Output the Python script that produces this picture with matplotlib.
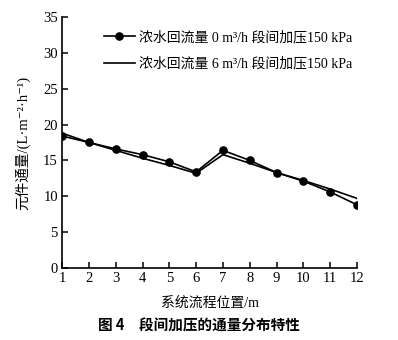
import matplotlib
matplotlib.use("Agg")
import matplotlib.pyplot as plt

plt.rcParams['font.family'] = ['Liberation Serif', 'Noto Sans CJK SC', 'DejaVu Sans']

positions = [1, 2, 3, 4, 5, 6, 7, 8, 9, 10, 11, 12]
flux_0 = [18.4, 17.5, 16.6, 15.8, 14.8, 13.4, 16.4, 15.0, 13.3, 12.1, 10.6, 8.8]
flux_6 = [18.8, 17.5, 16.4, 15.3, 14.3, 13.2, 15.8, 14.6, 13.3, 12.2, 11.0, 9.7]
label_0 = "浓水回流量 0 m³/h 段间加压150 kPa"
label_6 = "浓水回流量 6 m³/h 段间加压150 kPa"
y_ticks = [0, 5, 10, 15, 20, 25, 30, 35]

fig = plt.figure(figsize=(3.98, 3.40), dpi=100)
ax = fig.add_axes([0.156, 0.212, 0.741, 0.738])

ax.plot(positions, flux_0, color='black', lw=1.2, marker='o', ms=5.2, label=label_0)
ax.plot(positions, flux_6, color='black', lw=1.2, label=label_6)

ax.set_xlim(1, 12)
ax.set_ylim(0, 35)
ax.set_xticks(positions)
ax.set_yticks(y_ticks)
for s in ['top', 'right']:
    ax.spines[s].set_visible(False)
for s in ['left', 'bottom']:
    ax.spines[s].set_linewidth(1.2)
ax.tick_params(direction='in', length=4, width=1.1, labelsize=10.5, pad=3)

ax.set_xlabel("系统流程位置/m", fontsize=10, labelpad=8)
ax.set_ylabel("元件通量/(L·m⁻²·h⁻¹)", fontsize=10.5, labelpad=9)

leg = ax.legend(loc='upper left', bbox_to_anchor=(0.1, 0.995), frameon=False,
                fontsize=10, handlelength=2.2, handletextpad=0.3, labelspacing=0.9)

fig.text(0.5, 0.042, "图 4　段间加压的通量分布特性", ha='center', va='center',
         fontsize=10.5, fontweight='bold', family=['Noto Sans CJK SC', 'DejaVu Sans'])

fig.savefig("out.png", dpi=100)
